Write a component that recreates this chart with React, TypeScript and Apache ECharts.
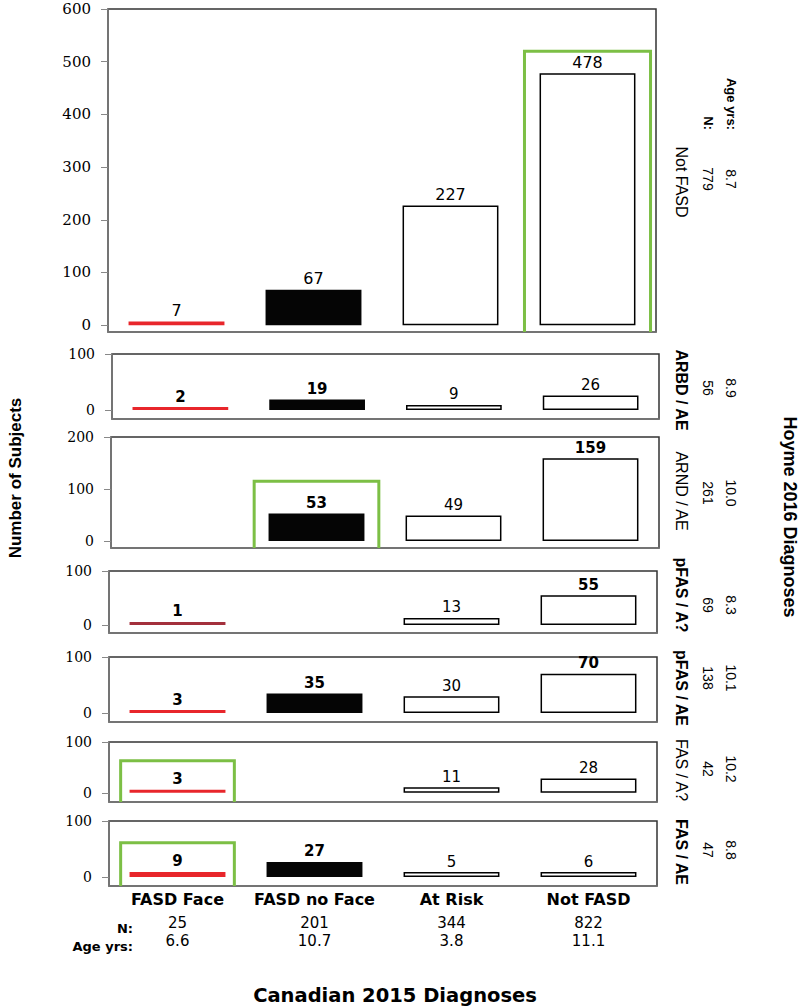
import React, { useEffect, useRef } from 'react';
import * as echarts from 'echarts';

// ---------- data ----------
const categories = ['FASD Face', 'FASD no Face', 'At Risk', 'Not FASD'];
const columnN = ['25', '201', '344', '822'];
const columnAge = ['6.6', '10.7', '3.8', '11.1'];

const rowNames = ['Not FASD', 'ARBD / AE', 'ARND / AE', 'pFAS / A?', 'pFAS / AE', 'FAS / A?', 'FAS / AE'];
const rowN = ['779', '56', '261', '69', '138', '42', '47'];
const rowAge = ['8.7', '8.9', '10.0', '8.3', '10.1', '10.2', '8.8'];

const notFasdRow = [7, 67, 227, 478];
const arbdRow = [2, 19, 9, 26];
const arndRow = [null, 53, 49, 159];
const pfasARow = [1, null, 13, 55];
const pfasAERow = [3, 35, 30, 70];
const fasARow = [3, null, 11, 28];
const fasAERow = [9, 27, 5, 6];
const counts = [notFasdRow, arbdRow, arndRow, pfasARow, pfasAERow, fasARow, fasAERow];

const yMax = [600, 100, 200, 100, 100, 100, 100];
const yTicks = [
  [0, 100, 200, 300, 400, 500, 600],
  [0, 100],
  [0, 100, 200],
  [0, 100],
  [0, 100],
  [0, 100],
  [0, 100],
];

// highlighted (matching) cells: row, column, box top value
const highlightRow = [0, 2, 5, 6];
const highlightCol = [3, 1, 0, 0];
const highlightTop = [520, 115, 63, 61];

// ---------- styling / layout ----------
const labelBold = [
  [false, false, false, false],
  [true, true, false, false],
  [false, true, false, true],
  [true, false, false, true],
  [true, true, false, true],
  [true, false, false, false],
  [true, true, false, false],
];
const rowNameBold = [false, true, false, true, true, false, true];
const panelTop = [9, 354, 437, 571, 657, 742, 821];
const panelBottom = [332, 419, 548, 633, 722, 802, 886];
const panelLeft = [108, 112, 111, 109, 109, 109, 109];
const panelRight = [656, 659, 659, 657, 657, 657, 657];
const yMin = [-13, -16, -13.5, -15, -16, -18, -16];
const nameY = [182, 390, 491, 595, 688, 770, 852];
const valY = [179, 388, 493, 605, 678, 769, 850];
const highlightFrac = [0.92, 0.91, 0.83, 0.83];
const RED = '#e8262b';
const DARKRED = '#a3303c';
const GREEN = '#7cbf45';
const BORDER = '#333';
const GRAYLINE = '#7a7a7a';
const RFONT = '"Liberation Sans", Arial, sans-serif';

function buildOption() {
  const grids: any[] = [];
  const xAxes: any[] = [];
  const yAxes: any[] = [];
  const series: any[] = [];
  const graphics: any[] = [];

  counts.forEach((row, i) => {
    grids.push({
      left: panelLeft[i],
      top: panelTop[i],
      width: panelRight[i] - panelLeft[i],
      height: panelBottom[i] - panelTop[i],
      show: true,
      borderColor: BORDER,
      borderWidth: 1.5,
      backgroundColor: 'transparent',
    });
    const last = i === counts.length - 1;
    xAxes.push({
      type: 'category',
      gridIndex: i,
      data: categories,
      axisLine: { show: true, onZero: false, lineStyle: { color: GRAYLINE, width: 1.5 } },
      axisTick: { show: false },
      axisLabel: last
        ? { show: true, interval: 0, margin: 5, fontFamily: 'DejaVu Sans', fontWeight: 'bold', fontSize: 16, color: '#000' }
        : { show: false },
      splitLine: { show: false },
    });
    yAxes.push({
      type: 'value',
      gridIndex: i,
      min: yMin[i],
      max: yMax[i],
      axisLine: { show: true, lineStyle: { color: GRAYLINE, width: 1.5 } },
      axisTick: { show: true, customValues: yTicks[i], length: 7, lineStyle: { color: '#888', width: 1 } },
      axisLabel: {
        customValues: yTicks[i],
        margin: 17,
        fontFamily: 'DejaVu Serif',
        fontSize: i === 0 ? 15 : 14,
        color: '#000',
      },
      splitLine: { show: false },
    });

    const labelCfg = {
      show: true,
      position: 'top',
      distance: 3,
      fontFamily: 'DejaVu Sans',
      fontSize: i === 0 ? 16 : 15,
      color: '#000',
    };
    const makeItem = (v: number | null, j: number) => {
      if (v == null) return '-';
      let itemStyle: any;
      if (j === 0) itemStyle = { color: i === 3 ? DARKRED : RED, borderWidth: 0 };
      else if (j === 1) itemStyle = { color: '#050505', borderWidth: 0 };
      else itemStyle = { color: '#fff', borderColor: '#000', borderWidth: 1.5 };
      return { value: v, itemStyle, label: { fontWeight: labelBold[i][j] ? 'bold' : 'normal' } };
    };
    // filled bars (FASD Face, FASD no Face)
    series.push({
      type: 'bar',
      xAxisIndex: i,
      yAxisIndex: i,
      barWidth: '70%',
      barGap: '-100%',
      barMinHeight: 3,
      data: row.map((v, j) => (j < 2 ? makeItem(v, j) : '-')),
      label: labelCfg,
    });
    // outlined bars (At Risk, Not FASD)
    series.push({
      type: 'bar',
      xAxisIndex: i,
      yAxisIndex: i,
      barWidth: '70%',
      barGap: '-100%',
      barMinHeight: 5,
      data: row.map((v, j) => (j >= 2 ? makeItem(v, j) : '-')),
      label: labelCfg,
    });

    // right-hand rotated row labels
    graphics.push({
      type: 'text',
      x: 681,
      y: nameY[i],
      rotation: -Math.PI / 2,
      style: {
        text: rowNames[i],
        align: 'center',
        verticalAlign: 'middle',
        font: `${rowNameBold[i] ? 'bold ' : ''}16px ${RFONT}`,
        fill: '#000',
      },
    });
    graphics.push({
      type: 'text',
      x: 708,
      y: valY[i],
      rotation: -Math.PI / 2,
      style: { text: rowN[i], align: 'center', verticalAlign: 'middle', font: `14px ${RFONT}`, fill: '#000' },
    });
    graphics.push({
      type: 'text',
      x: 731,
      y: valY[i],
      rotation: -Math.PI / 2,
      style: { text: rowAge[i], align: 'center', verticalAlign: 'middle', font: `14px ${RFONT}`, fill: '#000' },
    });
  });

  // extra bottom axes for the column N and age rows
  const lastGrid = counts.length - 1;
  [columnN, columnAge].forEach((vals, k) => {
    xAxes.push({
      type: 'category',
      gridIndex: lastGrid,
      position: 'bottom',
      offset: k === 0 ? 24 : 42,
      data: vals,
      axisLine: { show: false },
      axisTick: { show: false },
      axisLabel: { interval: 0, margin: 5, fontFamily: 'DejaVu Sans', fontSize: 15, color: '#000' },
      splitLine: { show: false },
    });
  });

  // green highlight boxes
  highlightRow.forEach((r, k) => {
    series.push({
      type: 'custom',
      xAxisIndex: r,
      yAxisIndex: r,
      z: 5,
      data: [[highlightCol[k], highlightTop[k]]],
      renderItem: (params: any, api: any) => {
        const c = api.coord([api.value(0), api.value(1)]);
        const bw = api.size([1, 0])[0] * highlightFrac[k];
        const base = api.coord([api.value(0), yMin[r]])[1];
        return {
          type: 'polyline',
          shape: {
            points: [
              [c[0] - bw / 2, base],
              [c[0] - bw / 2, c[1]],
              [c[0] + bw / 2, c[1]],
              [c[0] + bw / 2, base],
            ],
          },
          style: { stroke: GREEN, lineWidth: 3, fill: null },
        };
      },
    });
  });

  // titles and header labels
  graphics.push({
    type: 'text',
    x: 15,
    y: 478,
    rotation: Math.PI / 2,
    style: { text: 'Number of Subjects', align: 'center', verticalAlign: 'middle', font: `bold 17px ${RFONT}`, fill: '#000' },
  });
  graphics.push({
    type: 'text',
    x: 790,
    y: 517,
    rotation: -Math.PI / 2,
    style: { text: 'Hoyme 2016 Diagnoses', align: 'center', verticalAlign: 'middle', font: `bold 18px ${RFONT}`, fill: '#000' },
  });
  graphics.push({
    type: 'text',
    x: 395,
    y: 995,
    style: {
      text: 'Canadian 2015 Diagnoses',
      align: 'center',
      verticalAlign: 'middle',
      font: 'bold 19.5px "DejaVu Sans", sans-serif',
      fill: '#000',
    },
  });
  graphics.push({
    type: 'text',
    x: 133,
    y: 928,
    style: { text: 'N:', align: 'right', verticalAlign: 'middle', font: 'bold 13px "DejaVu Sans", sans-serif', fill: '#000' },
  });
  graphics.push({
    type: 'text',
    x: 133,
    y: 946,
    style: { text: 'Age yrs:', align: 'right', verticalAlign: 'middle', font: 'bold 13px "DejaVu Sans", sans-serif', fill: '#000' },
  });
  graphics.push({
    type: 'text',
    x: 731,
    y: 130,
    rotation: -Math.PI / 2,
    style: { text: 'Age yrs:', align: 'right', verticalAlign: 'middle', font: `bold 13px ${RFONT}`, fill: '#000' },
  });
  graphics.push({
    type: 'text',
    x: 708,
    y: 130,
    rotation: -Math.PI / 2,
    style: { text: 'N:', align: 'right', verticalAlign: 'middle', font: `bold 13px ${RFONT}`, fill: '#000' },
  });

  return {
    animation: false,
    backgroundColor: '#fff',
    grid: grids,
    xAxis: xAxes,
    yAxis: yAxes,
    series,
    graphic: graphics,
  };
}

export default function App() {
  const ref = useRef<HTMLDivElement>(null);
  useEffect(() => {
    if (!ref.current) return;
    const chart = echarts.init(ref.current, null, { renderer: 'svg' });
    chart.setOption(buildOption() as any);
    return () => chart.dispose();
  }, []);
  return (
    <div
      ref={ref}
      style={{ position: 'fixed', left: 0, top: 0, width: 800, height: 1008, background: '#fff' }}
    />
  );
}
